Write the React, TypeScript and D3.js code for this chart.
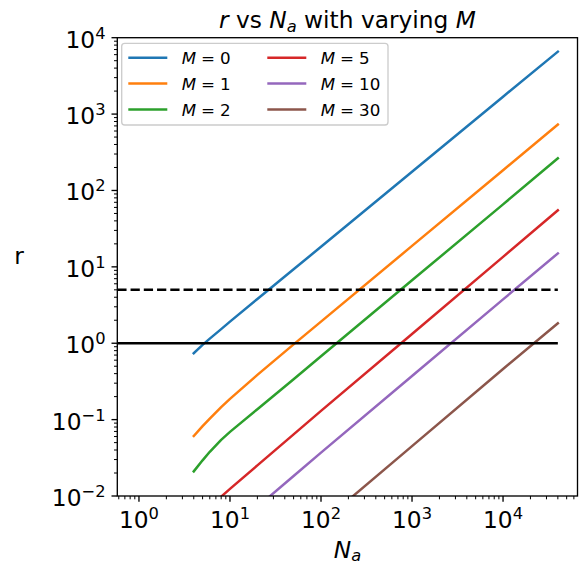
import React from "react";
import * as d3 from "d3";

// ---- data ----
const Na = [4, 5, 6, 8, 10, 20, 50, 100, 1000, 10000, 40000];
const mValues = [0, 1, 2, 5, 10, 30];
const rM0 = [0.74, 0.95, 1.15, 1.53, 1.92, 3.8, 9.3, 18.3, 176, 1690, 6570];
const rM1 = [0.061, 0.082, 0.103, 0.1455, 0.187, 0.385, 0.965, 1.92, 18.8, 184, 728];
const rM2 = [0.021, 0.0293, 0.0379, 0.0543, 0.0691, 0.137, 0.338, 0.674, 6.66, 65.8, 264];
const rM5 = [0.0042, 0.0055, 0.0068, 0.0098, 0.0124, 0.0252, 0.064, 0.13, 1.32, 13.5, 55];
const rM10 = [0.0012, 0.0015, 0.0019, 0.0027, 0.0035, 0.0072, 0.0183, 0.037, 0.372, 3.75, 15];
const rM30 = [0.00016, 0.0002, 0.00025, 0.00034, 0.00043, 0.00088, 0.0022, 0.0044, 0.045, 0.46, 1.82];
const seriesValues = [rM0, rM1, rM2, rM5, rM10, rM30];
const colors = ["#1f77b4", "#ff7f0e", "#2ca02c", "#d62728", "#9467bd", "#8c564b"];
const hLevels = [1, 5];
const hDash = ["none", "9.25,4"];
const xTickExps = [0, 1, 2, 3, 4];
const yTickExps = [-2, -1, 0, 1, 2, 3, 4];

const W = 579;
const H = 561;
const L = 117.3, R = 577.5, T = 37.7, B = 496;
const FONT = "DejaVu Sans";

export default function App() {
  const x = d3.scaleLog().domain([Math.pow(10, -0.238), Math.pow(10, 4.818)]).range([L, R]);
  const y = d3.scaleLog().domain([1e-2, 1e4]).range([B, T]);
  const line = d3
    .line<[number, number]>()
    .x((d) => x(d[0]))
    .y((d) => y(d[1]));

  const isMinor = (v: number) => Math.abs(Math.log10(v) - Math.round(Math.log10(v))) > 1e-9;
  const xMinor = x.ticks().filter(isMinor);
  const yMinor = y.ticks().filter(isMinor);
  const sup = (e: number) => (e < 0 ? "\u2212" + Math.abs(e) : String(e));

  const xEnd = d3.max(Na) as number;

  // legend layout
  const legX = 121.7, legY = 43.3, legW = 266.3, legH = 81.7;
  const rowY = [57.7, 83.6, 109.4];
  const colHandleX = [128.3, 267.3];
  const handleLen = 39;
  const textOff = 53.4;
  const legFont = 16.7;

  return (
    <svg
      width={W}
      height={H}
      style={{ position: "absolute", left: 0, top: 0, background: "#fff" }}
      fontFamily={FONT}
    >
      <defs>
        <clipPath id="plotclip">
          <rect x={L} y={T} width={R - L} height={B - T} />
        </clipPath>
      </defs>
      <rect x={0} y={0} width={W} height={H} fill="#fff" />

      {/* series */}
      <g clipPath="url(#plotclip)">
        {seriesValues.map((vals, i) => (
          <path
            key={i}
            d={line(Na.map((n, j) => [n, vals[j]] as [number, number])) || ""}
            fill="none"
            stroke={colors[i]}
            strokeWidth={2.5}
            strokeLinecap="square"
            strokeLinejoin="round"
          />
        ))}
        {hLevels.map((lv, i) => (
          <line
            key={i}
            x1={L}
            x2={x(xEnd)}
            y1={y(lv)}
            y2={y(lv)}
            stroke="#000"
            strokeWidth={2.5}
            strokeDasharray={hDash[i]}
          />
        ))}
      </g>

      {/* spines */}
      <rect x={L} y={T} width={R - L} height={B - T} fill="none" stroke="#000" strokeWidth={1.33} />

      {/* x ticks */}
      {xMinor.map((v, i) => (
        <line key={"xm" + i} x1={x(v)} x2={x(v)} y1={B} y2={B + 3.3} stroke="#000" strokeWidth={1} />
      ))}
      {xTickExps.map((e) => {
        const px = x(Math.pow(10, e));
        return (
          <g key={"xt" + e}>
            <line x1={px} x2={px} y1={B} y2={B + 5.8} stroke="#000" strokeWidth={1.33} />
            <text x={px} y={527.7} textAnchor="middle" fontSize={23.3} fill="#000">
              10
              <tspan fontSize={16.3} dy={-9}>
                {sup(e)}
              </tspan>
            </text>
          </g>
        );
      })}

      {/* y ticks */}
      {yMinor.map((v, i) => (
        <line key={"ym" + i} x1={L - 3.3} x2={L} y1={y(v)} y2={y(v)} stroke="#000" strokeWidth={1} />
      ))}
      {yTickExps.map((e) => {
        const py = y(Math.pow(10, e));
        return (
          <g key={"yt" + e}>
            <line x1={L - 5.8} x2={L} y1={py} y2={py} stroke="#000" strokeWidth={1.33} />
            <text x={105.5} y={py + 10} textAnchor="end" fontSize={23.3} fill="#000">
              10
              <tspan fontSize={16.3} dy={-9}>
                {sup(e)}
              </tspan>
            </text>
          </g>
        );
      })}

      {/* title */}
      <text x={(L + R) / 2} y={28.3} textAnchor="middle" fontSize={23.3} fill="#000">
        <tspan fontStyle="italic">r</tspan>
        <tspan> vs </tspan>
        <tspan fontStyle="italic">N</tspan>
        <tspan fontStyle="italic" fontSize={16.3} dy={4}>a</tspan>
        <tspan dy={-4}> with varying </tspan>
        <tspan fontStyle="italic">M</tspan>
      </text>

      {/* axis labels */}
      <text x={(L + R) / 2} y={557.5} textAnchor="middle" fontSize={23.3} fill="#000">
        <tspan fontStyle="italic">N</tspan>
        <tspan fontStyle="italic" fontSize={16.3} dy={3}>a</tspan>
      </text>
      <text x={19} y={263.5} textAnchor="middle" fontSize={23.3} fill="#000">
        r
      </text>

      {/* legend */}
      <rect
        x={legX}
        y={legY}
        width={legW}
        height={legH}
        rx={3}
        ry={3}
        fill="#fff"
        fillOpacity={0.8}
        stroke="#cccccc"
        strokeWidth={1.33}
      />
      {mValues.map((m, i) => {
        const col = Math.floor(i / 3);
        const row = i % 3;
        const hx = colHandleX[col];
        const cy = rowY[row];
        return (
          <g key={"lg" + m}>
            <line x1={hx} x2={hx + handleLen} y1={cy} y2={cy} stroke={colors[i]} strokeWidth={2.5} />
            <text x={hx + textOff} y={cy + 6.1} fontSize={legFont} fill="#000">
              <tspan fontStyle="italic">M</tspan>
              <tspan dx={5}>=</tspan>
              <tspan dx={5}>{String(m)}</tspan>
            </text>
          </g>
        );
      })}
    </svg>
  );
}
